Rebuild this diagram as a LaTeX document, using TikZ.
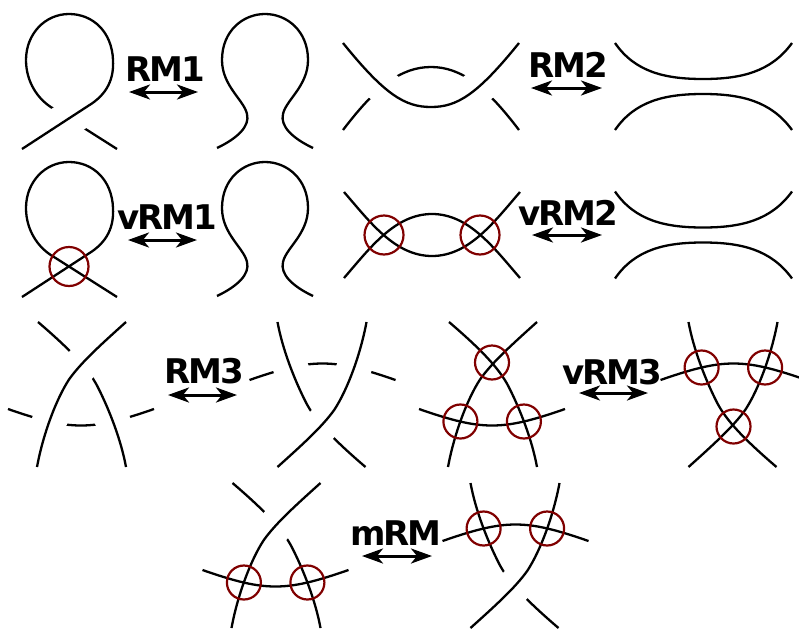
\documentclass[tikz,border=0pt]{standalone}
\usepackage{fontspec}
\usetikzlibrary{arrows.meta}
\newfontfamily\movefont[LetterSpace=-6]{DejaVu Sans}
\definecolor{vred}{RGB}{128,0,0}

% strands of the third move, around its centre
\newcommand{\rmtA}{(-43,-72.5) .. controls (-5,-40) and (10,-22) .. (18,-5) .. controls (28,15) and (40,45) .. (45,72.5)}
\newcommand{\rmtB}{(45,-72.5) .. controls (20,-50) and (0,-32) .. (-12,-15) .. controls (-25,5) and (-38,40) .. (-44,72.5)}
\newcommand{\rmtH}{(-73,14.5) .. controls (-40,26) and (-20,31) .. (0,31) .. controls (20,31) and (40,26) .. (73,14.5)}

\tikzset{
  strand/.style={line width=2.3pt},
  overstrand/.style={strand, preaction={draw, white, line width=35pt}},
  vring/.style={draw=vred, line width=2.2pt},
  move/.style={font=\movefont\bfseries\fontsize{34}{34}\selectfont, inner sep=0pt},
  equiv/.style={{Stealth[length=21pt,width=15pt,inset=6pt]}-{Stealth[length=21pt,width=15pt,inset=6pt]}, line width=3pt}
}

\begin{document}
\begin{tikzpicture}[x=1pt,y=-1pt]
\useasboundingbox (0,0) rectangle (799,629);

% RM1
\draw[strand] (26,60) .. controls (26,82) and (38,100) .. (54,109) -- (117,149);
\draw[overstrand] (22,149) -- (88,106) .. controls (108,94) and (114,78) .. (113,60) .. controls (112,32) and (93,14) .. (69,14) .. controls (45,14) and (26,34) .. (26,60);
\draw[strand] (217,148) .. controls (238,138) and (250,126) .. (247,114) .. controls (244,100) and (222,86) .. (222,60) .. controls (222,31) and (243,14) .. (265,14) .. controls (287,14) and (308,31) .. (308,60) .. controls (308,86) and (286,100) .. (283,114) .. controls (280,126) and (292,138) .. (313,148);

% RM2
\draw[strand] (343,130) .. controls (375,88) and (400,67) .. (431,67) .. controls (462,67) and (487,88) .. (519,130);
\draw[overstrand] (343,43) .. controls (385,95) and (405,107) .. (431,107) .. controls (457,107) and (477,95) .. (519,43);
\draw[strand] (615,43) .. controls (635,72) and (665,79) .. (703,79) .. controls (741,79) and (771,72) .. (792,43);
\draw[strand] (615,130) .. controls (635,101) and (665,94) .. (703,94) .. controls (741,94) and (771,101) .. (792,130);

% vRM1
\begin{scope}[shift={(0,148)}]
\draw[strand] (22,149) -- (88,106) .. controls (108,94) and (114,78) .. (113,60) .. controls (112,32) and (93,14) .. (69,14) .. controls (45,14) and (26,34) .. (26,60) .. controls (26,82) and (38,100) .. (54,109) -- (117,149);
\draw[vring] (69,118.5) circle (19.5);
\draw[strand] (217,148) .. controls (238,138) and (250,126) .. (247,114) .. controls (244,100) and (222,86) .. (222,60) .. controls (222,31) and (243,14) .. (265,14) .. controls (287,14) and (308,31) .. (308,60) .. controls (308,86) and (286,100) .. (283,114) .. controls (280,126) and (292,138) .. (313,148);
\end{scope}

% vRM2
\draw[strand] (344,192) .. controls (370,222) and (395,256) .. (432,256) .. controls (469,256) and (494,222) .. (520,192);
\draw[strand] (344,278) .. controls (370,248) and (395,214) .. (432,214) .. controls (469,214) and (494,248) .. (520,278);
\draw[vring] (384,235) circle (19.5);
\draw[vring] (480,235) circle (19.5);
\begin{scope}[shift={(0,148.5)}]
\draw[strand] (615,43) .. controls (635,72) and (665,79) .. (703,79) .. controls (741,79) and (771,72) .. (792,43);
\draw[strand] (615,130) .. controls (635,101) and (665,94) .. (703,94) .. controls (741,94) and (771,101) .. (792,130);
\end{scope}

% RM3
\begin{scope}[shift={(81,394.5)}]
\draw[strand] \rmtH;
\draw[overstrand] \rmtA;
\draw[overstrand] \rmtB;
\end{scope}
\begin{scope}[shift={(322.5,394.5)}, rotate=180]
\draw[strand] \rmtH;
\draw[overstrand] \rmtA;
\draw[overstrand] \rmtB;
\end{scope}

% vRM3
\begin{scope}[shift={(492,394.5)}]
\draw[strand] \rmtH;
\draw[strand] \rmtA;
\draw[strand] \rmtB;
\draw[vring] (0,-32) circle (17);
\draw[vring] (-31.6,27) circle (17);
\draw[vring] (31.9,27) circle (17);
\end{scope}
\begin{scope}[shift={(733.5,394.5)}, rotate=180]
\draw[strand] \rmtH;
\draw[strand] \rmtA;
\draw[strand] \rmtB;
\draw[vring] (0,-32) circle (17);
\draw[vring] (-31.6,27) circle (17);
\draw[vring] (31.9,27) circle (17);
\end{scope}

% mRM
\begin{scope}[shift={(275.5,555.5)}]
\draw[strand] \rmtA;
\draw[overstrand] \rmtB;
\draw[strand] \rmtH;
\draw[vring] (-31.6,27) circle (17);
\draw[vring] (31.9,27) circle (17);
\end{scope}
\begin{scope}[shift={(515.5,555.5)}, rotate=180]
\draw[strand] \rmtA;
\draw[overstrand] \rmtB;
\draw[strand] \rmtH;
\draw[vring] (-31.6,27) circle (17);
\draw[vring] (31.9,27) circle (17);
\end{scope}

% labels
\node[move] (rm1) at (165,69) {RM1};
\node[move] (rm2) at (568,65) {RM2};
\node[move] (vrm1) at (167,217) {vRM1};
\node[move] (vrm2) at (568,213) {vRM2};
\node[move] (rm3) at (204,371) {RM3};
\node[move] (vrm3) at (612,372) {vRM3};
\node[move] (mrm) at (396,533) {mRM};

\coordinate (rm1l) at (129,92);  \coordinate (rm1r) at (198,92);
\coordinate (rm2l) at (531,88);  \coordinate (rm2r) at (602,88);
\coordinate (vrm1l) at (128,240); \coordinate (vrm1r) at (197,240);
\coordinate (vrm2l) at (532,235); \coordinate (vrm2r) at (602,235);
\coordinate (rm3l) at (168,395); \coordinate (rm3r) at (237,395);
\coordinate (vrm3l) at (579,393); \coordinate (vrm3r) at (648,393);
\coordinate (mrml) at (362,556); \coordinate (mrmr) at (432,556);
\draw[equiv] (rm1l) -- (rm1r);
\draw[equiv] (rm2l) -- (rm2r);
\draw[equiv] (vrm1l) -- (vrm1r);
\draw[equiv] (vrm2l) -- (vrm2r);
\draw[equiv] (rm3l) -- (rm3r);
\draw[equiv] (vrm3l) -- (vrm3r);
\draw[equiv] (mrml) -- (mrmr);

\end{tikzpicture}
\end{document}
